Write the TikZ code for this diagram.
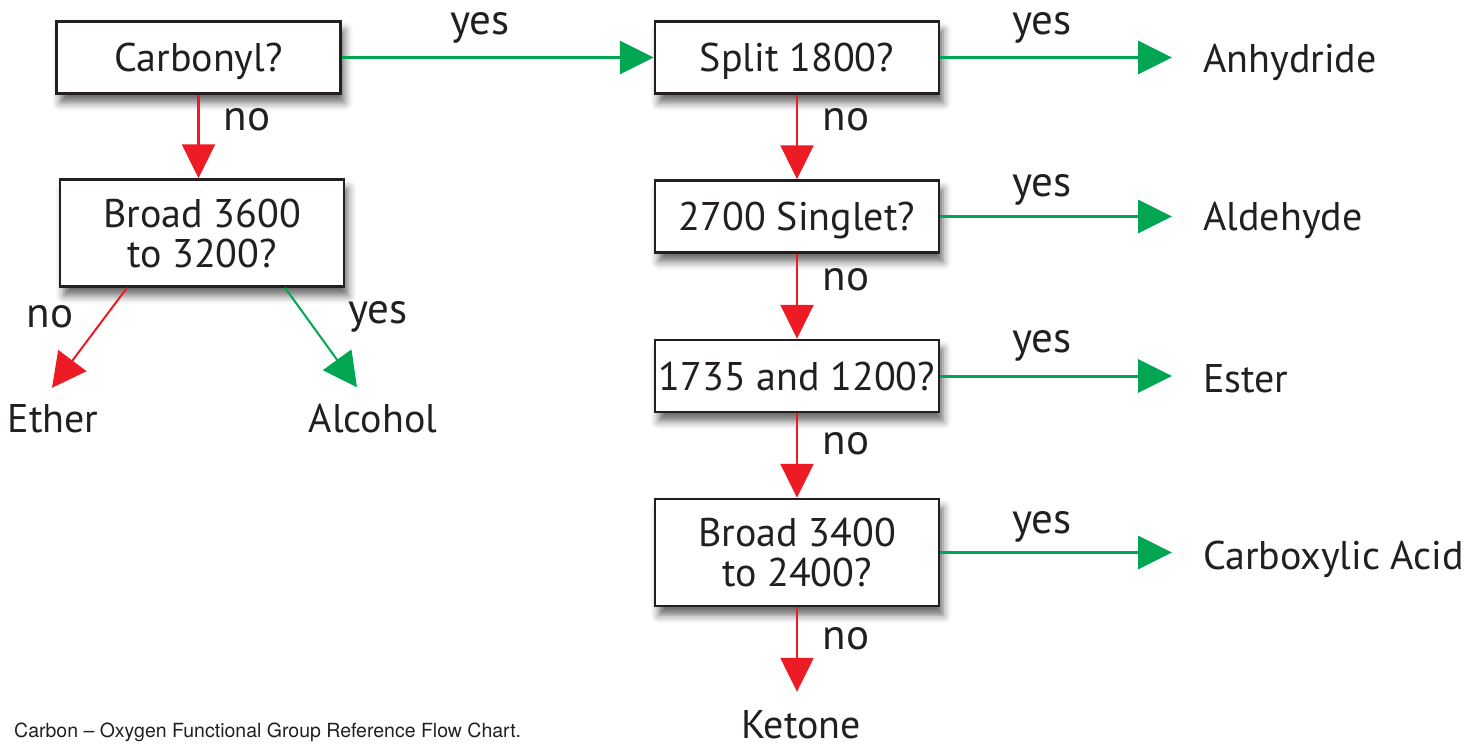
\documentclass[tikz,border=0pt]{standalone}
\usepackage{fontspec}
\setmainfont{PT Sans}
\newfontfamily\capfont{TeX Gyre Heros}
\usetikzlibrary{arrows.meta,shadows.blur}
\definecolor{mygreen}{HTML}{00A651}
\definecolor{myred}{HTML}{ED1C24}
\definecolor{ink}{HTML}{231F20}
\begin{document}
\begin{tikzpicture}[x=1pt,y=-1pt,
  qbox/.style={draw=ink, line width=2.5pt, fill=white, minimum width=284pt,
    minimum height=72pt, inner sep=0pt, text=ink, align=center,
    font=\fontsize{40}{40}\selectfont, text height=28pt, text depth=0pt,
    blur shadow={shadow xshift=4pt, shadow yshift=-9pt, shadow blur radius=8pt, shadow opacity=60}},
  qboxtwo/.style={qbox, minimum height=107pt, text height=68pt, text depth=0pt},
  result/.style={inner sep=0pt, text=ink, font=\fontsize{40}{40}\selectfont},
  lbl/.style={inner sep=0pt, text=ink, font=\fontsize{43}{43}\selectfont},
  noarr/.style={draw=myred, line width=2.5pt, -{Triangle[length=34pt,width=33pt]}},
  yesarr/.style={draw=mygreen, line width=3pt, -{Triangle[length=34pt,width=33pt]}},
  noarrd/.style={draw=myred, line width=2pt, -{Triangle[length=34pt,width=35pt]}},
  yesarrd/.style={draw=mygreen, line width=2pt, -{Triangle[length=34pt,width=35pt]}},
]
\useasboundingbox (0,0) rectangle (1470,747);

% question boxes
\node[qbox] (carb) at (198.5,57.5) {Carbonyl?};
\node[qboxtwo] (b1) at (202,233) {Broad 3600\\to 3200?};
\node[qbox] (split) at (797,57.5) {Split 1800?};
\node[qbox] (sing) at (797,216.5) {2700 Singlet?};
\node[qbox] (est) at (797,376) {1735 and 1200?};
\node[qboxtwo] (b2) at (797,552.5) {Broad 3400\\to 2400?};

% results
\node[result, anchor=base] (ether) at (53,432) {Ether};
\node[result, anchor=base] (alc) at (373,432) {Alcohol};
\node[result, anchor=base west] (anh) at (1203,72) {Anhydride};
\node[result, anchor=base west] (ald) at (1203,230) {Aldehyde};
\node[result, anchor=base west] (ester) at (1203,392) {Ester};
\node[result, anchor=base west] (acid) at (1203,569) {Carboxylic Acid};
\node[result, anchor=base] (ket) at (801,738) {Ketone};

% connectors
\draw[noarr] (carb.south) -- (carb.south |- b1.north);
\draw[yesarr] (carb.east) -- (split.west);
\draw[noarrd] ([xshift=-75pt]b1.south) -- ([xshift=-1pt,yshift=16pt]ether.north);
\draw[yesarrd] ([xshift=83pt]b1.south) -- ([xshift=-16pt,yshift=16pt]alc.north);

\draw[noarr] (split.south) -- (sing.north);
\draw[noarr] (sing.south) -- (est.north);
\draw[noarr] (est.south) -- (b2.north);
\draw[noarr, shorten >=18pt] (b2.south) -- (b2.south |- ket.north);

\draw[yesarr, shorten >=31pt] (split.east) -- (split.east -| anh.west);
\draw[yesarr, shorten >=31pt] (sing.east) -- (sing.east -| ald.west);
\draw[yesarr, shorten >=31pt] (est.east) -- (est.east -| ester.west);
\draw[yesarr, shorten >=31pt] (b2.east) -- (b2.east -| acid.west);

% labels
\node[lbl] (l1) at (247,120) {no};
\node[lbl] (l2) at (480,28) {yes};
\node[lbl] (l3) at (50,317) {no};
\node[lbl] (l4) at (378,317) {yes};
\node[lbl] (l5) at (846,120) {no};
\node[lbl] (l6) at (846,280) {no};
\node[lbl] (l7) at (846,444) {no};
\node[lbl] (l8) at (846,639) {no};
\node[lbl] (l9) at (1042,28) {yes};
\node[lbl] (l10) at (1042,190) {yes};
\node[lbl] (l11) at (1042,346) {yes};
\node[lbl] (l12) at (1042,527) {yes};

% caption
\node[anchor=base west, inner sep=0pt, text=ink, font=\capfont\fontsize{19.5}{19.5}\selectfont] (cap) at (14,737) {Carbon – Oxygen Functional Group Reference Flow Chart.};
\end{tikzpicture}
\end{document}
